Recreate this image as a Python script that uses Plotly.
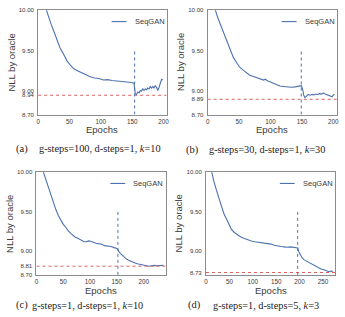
import plotly.graph_objects as go

# ---------------- data ----------------
a_epochs = [10, 13, 16, 20, 25, 30, 35, 40, 46, 51, 57, 62, 67, 75, 83, 90, 97, 104, 111, 118, 125, 131, 137, 143, 149, 153,
            155, 157, 159, 161, 163, 165, 167, 169, 171, 173, 175, 177, 179, 181, 183, 185, 187, 189, 191, 193, 195, 197, 199]
a_nll = [10.08, 10.00, 9.93, 9.84, 9.74, 9.63, 9.53, 9.46, 9.37, 9.32, 9.27, 9.25, 9.23, 9.20, 9.17, 9.155, 9.15, 9.13, 9.135,
         9.125, 9.12, 9.12, 9.11, 9.105, 9.10, 9.09,
         8.96, 8.95, 8.98, 8.97, 9.00, 8.99, 9.02, 9.00, 9.02, 9.01, 9.03, 9.02, 9.05, 9.03, 9.05, 9.03, 9.06, 9.04, 9.00,
         9.04, 9.10, 9.14, 9.13]

b_epochs = [10, 12, 16, 20, 23, 27, 31, 36, 41, 46, 51, 57, 62, 67, 73, 79, 85, 89, 92, 95, 99, 104, 110, 115, 121, 127, 133,
            139, 144, 149, 151, 153, 155, 157, 160, 163, 166, 169, 172, 175, 178, 181, 184, 186, 189, 192, 195, 198, 200, 202]
b_nll = [10.06, 10.00, 9.91, 9.83, 9.77, 9.69, 9.61, 9.51, 9.41, 9.35, 9.29, 9.25, 9.22, 9.19, 9.175, 9.16, 9.14, 9.13, 9.14,
         9.12, 9.11, 9.09, 9.07, 9.055, 9.05, 9.045, 9.04, 9.045, 9.055, 9.06, 9.02, 8.94, 8.91, 8.93, 8.95, 8.94, 8.95,
         8.945, 8.955, 8.95, 8.96, 8.955, 8.97, 8.96, 8.95, 8.94, 8.93, 8.92, 8.945, 8.95]

c_epochs = [10, 13, 18, 23, 27, 32, 36, 41, 46, 50, 55, 59, 65, 72, 78, 84, 89, 93, 97, 101, 106, 111, 116, 121, 127, 133,
            139, 145, 150, 152, 154, 157, 160, 164, 168, 172, 176, 180, 184, 188, 192, 196, 200, 205, 210, 215, 220, 225,
            230, 234, 237]
c_nll = [10.06, 10.00, 9.88, 9.78, 9.70, 9.61, 9.53, 9.45, 9.39, 9.34, 9.30, 9.26, 9.22, 9.18, 9.16, 9.14, 9.12, 9.12, 9.13,
         9.125, 9.11, 9.10, 9.095, 9.09, 9.07, 9.065, 9.06, 9.045, 9.035, 9.02, 8.99, 8.97, 8.95, 8.92, 8.90, 8.885, 8.87,
         8.86, 8.85, 8.84, 8.835, 8.83, 8.82, 8.815, 8.81, 8.815, 8.82, 8.815, 8.82, 8.825, 8.82]

d_epochs = [10, 12, 17, 22, 27, 33, 38, 44, 49, 54, 60, 66, 72, 78, 84, 90, 97, 104, 111, 118, 125, 132, 139, 146, 153, 160,
            167, 174, 181, 188, 194, 196, 198, 200, 205, 210, 216, 222, 228, 234, 240, 246, 252, 258, 263, 266, 268, 270, 272]
d_nll = [10.06, 10.00, 9.88, 9.78, 9.67, 9.57, 9.48, 9.40, 9.33, 9.28, 9.24, 9.21, 9.19, 9.17, 9.155, 9.14, 9.13, 9.12, 9.115,
         9.11, 9.105, 9.10, 9.09, 9.075, 9.065, 9.06, 9.055, 9.05, 9.055, 9.05, 9.045, 9.04, 9.00, 8.97, 8.92, 8.89, 8.87,
         8.85, 8.83, 8.81, 8.79, 8.775, 8.765, 8.75, 8.74, 8.745, 8.75, 8.74, 8.725]

oracle_best = [8.94, 8.89, 8.81, 8.73]          # red dashed reference lines
pretrain_end = [154, 149, 152, 196]             # blue dashed vertical lines
vline_top = 9.50
x_max = [205, 206, 241, 276]
x_ticks = [[0, 50, 100, 150, 200], [0, 50, 100, 150, 200], [0, 50, 100, 150, 200], [0, 50, 100, 150, 200, 250]]
y_ticks = [[8.70, 8.94, 9.00, 9.50, 10.00], [8.70, 8.89, 9.00, 9.50, 10.00],
           [8.70, 8.81, 9.00, 9.50, 10.00], [8.73, 9.00, 9.50, 10.00]]
y_range = [8.70, 10.00]
captions = ["g-steps=100, d-steps=1, <i>k</i>=10", "g-steps=30, d-steps=1, <i>k</i>=30",
            "g-steps=1, d-steps=1, <i>k</i>=10", "g-steps=1, d-steps=5, <i>k</i>=3"]
panel_tags = ["(a)", "(b)", "(c)", "(d)"]
series_name = "SeqGAN"

# ---------------- layout geometry (pixels) ----------------
W, H = 345, 317
frames = [  # left, right, top, bottom in px
    (36.7, 167.0, 6.5, 113.0),
    (208.7, 340.0, 6.5, 113.0),
    (35.0, 166.0, 172.0, 277.0),
    (207.0, 338.0, 172.0, 277.0),
]
caption_pos = [  # tag x, text x, y
    (12, 36, 148), (185, 208, 149), (12, 28, 308), (187, 212, 308)
]
ytitle_x = [9.3, 181.3, 7.5, 179.5]
xtitle_y = [128, 128, 293, 293]

BLUE = "#4c72b0"
RED = "#d9625f"
FRAME = "#8c8c8c"
TXT = "#3a3a3a"
SANS = "Liberation Sans, Arial, sans-serif"
SERIF = "Liberation Serif, Times New Roman, serif"

all_x = [a_epochs, b_epochs, c_epochs, d_epochs]
all_y = [a_nll, b_nll, c_nll, d_nll]

fig = go.Figure()
layout = dict(width=W, height=H, margin=dict(l=0, r=0, t=0, b=0),
              paper_bgcolor="white", plot_bgcolor="white", showlegend=False)
annotations = []
shapes = []

for i in range(4):
    n = "" if i == 0 else str(i + 1)
    xa, ya = "x" + n, "y" + n
    l, r, t, b = frames[i]
    fig.add_trace(go.Scatter(x=all_x[i], y=all_y[i], mode="lines", name=series_name,
                             line=dict(color=BLUE, width=1.1), xaxis=xa, yaxis=ya, cliponaxis=True))
    fig.add_trace(go.Scatter(x=[0, x_max[i]], y=[oracle_best[i]] * 2, mode="lines",
                             line=dict(color=RED, width=1, dash="3px,3px"), xaxis=xa, yaxis=ya))
    fig.add_trace(go.Scatter(x=[pretrain_end[i]] * 2, y=[y_range[0], vline_top], mode="lines",
                             line=dict(color=BLUE, width=1, dash="3px,3px"), xaxis=xa, yaxis=ya))

    layout["xaxis" + n] = dict(domain=[l / W, r / W], anchor=ya, range=[0, x_max[i]],
                               tickvals=x_ticks[i], ticktext=[str(v) for v in x_ticks[i]],
                               showgrid=False, zeroline=False, showline=True, mirror=True,
                               linecolor=FRAME, linewidth=1, ticks="", ticklabelstandoff=1,
                               tickfont=dict(family=SANS, size=6.3, color=TXT))
    layout["yaxis" + n] = dict(domain=[1 - b / H, 1 - t / H], anchor=xa, range=y_range,
                               tickvals=y_ticks[i], ticktext=["%.2f" % v for v in y_ticks[i]],
                               showgrid=False, zeroline=False, showline=True, mirror=True,
                               linecolor=FRAME, linewidth=1, ticks="", ticklabelstandoff=2,
                               tickfont=dict(family=SANS, size=6.1, color=TXT))
    annotations.append(dict(text="Epochs", x=(l + r) / 2 / W, y=1 - xtitle_y[i] / H, xref="paper", yref="paper",
                            showarrow=False, xanchor="center", yanchor="middle",
                            font=dict(family=SANS, size=9.5, color=TXT)))
    annotations.append(dict(text="NLL by oracle", x=ytitle_x[i] / W, y=1 - (t + b) / 2 / H, xref="paper", yref="paper",
                            showarrow=False, textangle=-90, xanchor="center", yanchor="middle",
                            font=dict(family=SANS, size=9.5, color=TXT)))
    tx, cx, cy = caption_pos[i]
    annotations.append(dict(text=panel_tags[i], x=tx / W, y=1 - cy / H, xref="paper", yref="paper",
                            showarrow=False, xanchor="left", yanchor="middle",
                            font=dict(family=SERIF, size=10.5, color="#222")))
    annotations.append(dict(text=captions[i], x=cx / W, y=1 - cy / H, xref="paper", yref="paper",
                            showarrow=False, xanchor="left", yanchor="middle",
                            font=dict(family=SERIF, size=10.3, color="#222")))
    ly = 1 - 11.5 / (b - t)
    shapes.append(dict(type="line", xref=xa + " domain", yref=ya + " domain", x0=0.572, x1=0.687, y0=ly, y1=ly,
                       line=dict(color=BLUE, width=1.1)))
    annotations.append(dict(text=series_name, x=0.735, y=ly, xref=xa + " domain", yref=ya + " domain",
                            showarrow=False, xanchor="left", yanchor="middle",
                            font=dict(family=SANS, size=7.5, color=TXT)))

layout["annotations"] = annotations
layout["shapes"] = shapes
fig.update_layout(**layout)
fig.write_html("out.html")
